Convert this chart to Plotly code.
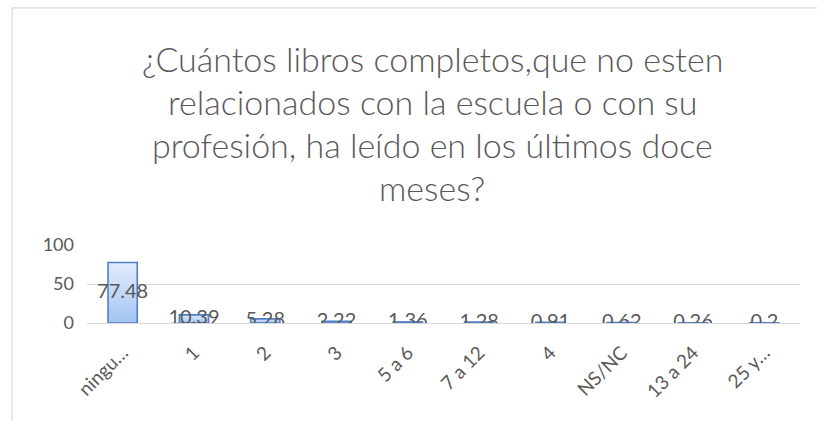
import plotly.graph_objects as go

# Survey answers: number of non-school / non-work books read in the last twelve months
categories = ["ningu…", "1", "2", "3", "5 a 6", "7 a 12", "4", "NS/NC", "13 a 24", "25 y…"]
percentages = [77.48, 10.39, 5.28, 2.22, 1.36, 1.28, 0.91, 0.62, 0.26, 0.2]
y_ticks = [0, 50, 100]

title_lines = [
    "¿Cuántos libros completos,que no esten",
    "relacionados con la escuela o con su",
    "profesión, ha leído en los últimos doce",
    "meses?",
]

FONT = "Lato"
GREY = "#595959"
BAR_W = 0.41

fig = go.Figure()

# vertical colour gradient inside each bar, built from stacked overlay layers
top_rgb = (226, 235, 252)
bottom_rgb = (164, 196, 243)
n_layers = 24
for i in range(n_layers):
    frac = 1 - i / n_layers
    t = i / (n_layers - 1)
    rgb = tuple(round(a + (b - a) * t) for a, b in zip(top_rgb, bottom_rgb))
    fig.add_trace(go.Bar(
        x=categories,
        y=[v * frac for v in percentages],
        width=BAR_W,
        marker=dict(color="rgb(%d,%d,%d)" % rgb, line=dict(width=0)),
        hoverinfo="skip",
        showlegend=False,
    ))

# bar outline
fig.add_trace(go.Bar(
    x=categories,
    y=percentages,
    width=BAR_W,
    marker=dict(color="rgba(0,0,0,0)", line=dict(color="#4f7fc6", width=1.6)),
    hoverinfo="x+y",
    showlegend=False,
))

# value labels centred on each bar
fig.add_trace(go.Scatter(
    x=categories,
    y=[v / 2 for v in percentages],
    mode="text",
    text=[f"{v:g}" for v in percentages],
    textposition="middle center",
    textfont=dict(family=FONT, size=20, color=GREY),
    hoverinfo="skip",
    showlegend=False,
))

# plot area spans 78 px vertically (0 -> 100); title lines placed above it
PLOT_TOP, PLOT_H = 245, 78
line_centres = [58, 101, 144, 187]
annotations = [
    dict(text=txt, xref="paper", yref="paper",
         x=0.484, y=(PLOT_TOP + PLOT_H - yc) / PLOT_H,
         xanchor="center", yanchor="middle", showarrow=False,
         font=dict(family=FONT, size=34, color=GREY, weight=300))
    for txt, yc in zip(title_lines, line_centres)
]

fig.update_layout(
    width=817,
    height=421,
    margin=dict(l=87, r=17, t=PLOT_TOP, b=421 - PLOT_TOP - PLOT_H),
    paper_bgcolor="white",
    plot_bgcolor="white",
    barmode="overlay",
    font=dict(family=FONT, color=GREY, size=18),
    annotations=annotations,
    xaxis=dict(
        type="category",
        tickangle=-45,
        showgrid=False,
        showline=False,
        ticks="",
        ticklabelstandoff=14,
        tickfont=dict(family=FONT, size=19, color=GREY),
    ),
    yaxis=dict(
        range=[0, 100],
        tickvals=y_ticks,
        showgrid=True,
        gridcolor="#d9d9d9",
        gridwidth=1,
        zeroline=True,
        zerolinecolor="#d9d9d9",
        zerolinewidth=1,
        showline=False,
        ticks="",
        ticklabelstandoff=12,
        tickfont=dict(family=FONT, size=18, color=GREY),
    ),
    shapes=[
        # chart frame (left and top edges)
        dict(type="line", xref="paper", yref="paper",
             x0=-0.105, x1=-0.105, y0=4.04, y1=-1.4,
             line=dict(color="#d9d9d9", width=1.2)),
        dict(type="line", xref="paper", yref="paper",
             x0=-0.105, x1=1.1, y0=4.04, y1=4.04,
             line=dict(color="#d9d9d9", width=1.2)),
    ],
)

fig.write_html("out.html")
